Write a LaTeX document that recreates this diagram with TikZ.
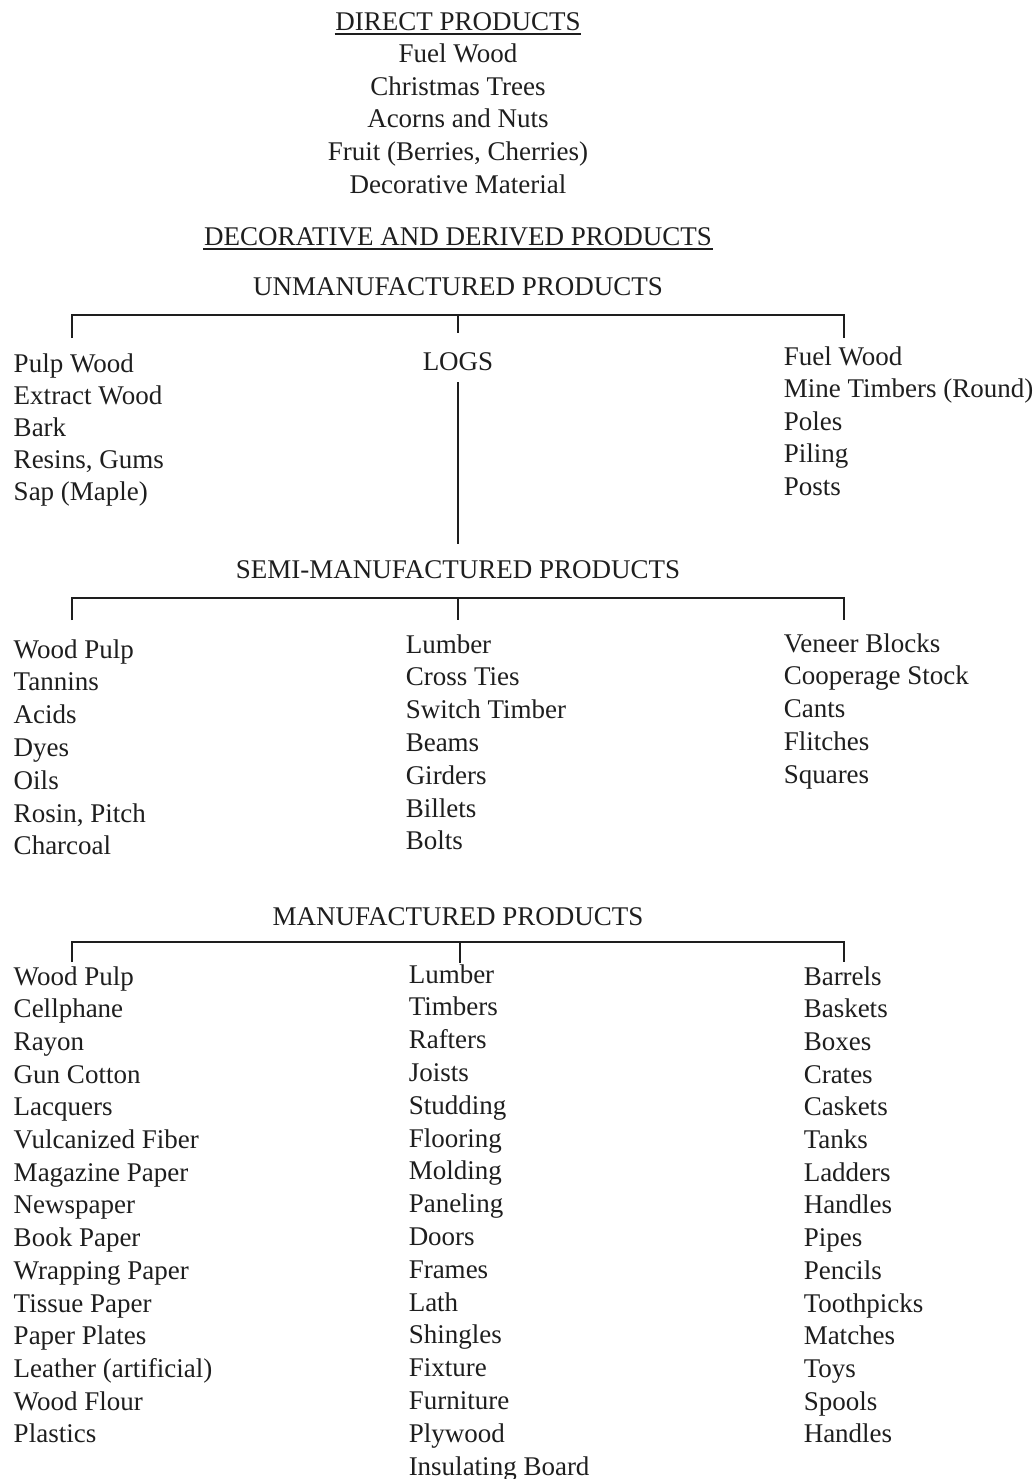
\documentclass[tikz,border=0pt]{standalone}
\usepackage{fontspec}
\setmainfont{Liberation Serif}
\definecolor{inkdark}{HTML}{1E1E1E}

\tikzset{
  heading/.style={anchor=base, inner sep=0pt, font=\fontsize{13.5}{16}\selectfont},
  entry/.style={anchor=base west, inner sep=0pt, font=\fontsize{13.5}{16}\selectfont},
}

\begin{document}
\begin{tikzpicture}[x=0.5pt, y=-0.5pt, line width=0.75pt, color=inkdark]
  \useasboundingbox (0,0) rectangle (1034,1479);
  % direct products
  \node[heading] (direct) at (458,30) {DIRECT PRODUCTS};
  \draw ([yshift=-2pt]direct.base west) -- ([yshift=-2pt]direct.base east);
  \foreach \t [count=\i] in {Fuel Wood, Christmas Trees, Acorns and Nuts, {Fruit (Berries, Cherries)}, Decorative Material}{
    \node[heading] (direct\i) at (458,{30+32.6*\i}) {\t}; }
  \node[heading] (derived) at (458,245) {DECORATIVE AND DERIVED PRODUCTS};
  \draw ([yshift=-2pt]derived.base west) -- ([yshift=-2pt]derived.base east);

  % unmanufactured products
  \node[heading] (unman) at (458,295) {UNMANUFACTURED PRODUCTS};
  \coordinate (unL) at (72,338); \coordinate (unM) at (458,315); \coordinate (unR) at (844,338);
  \draw (unL) |- (unM) -| (unR);
  \node[heading] (logs) at (458,370) {LOGS};
  \draw[shorten >=9pt] (unM) -- (logs.north);
  \foreach \t [count=\i] in {Pulp Wood, Extract Wood, Bark, {Resins, Gums}, {Sap (Maple)}}{
    \node[entry] (unA\i) at (13,{372+32.2*(\i-1)}) {\t}; }
  \foreach \t [count=\i] in {Fuel Wood, {Mine Timbers (Round)}, Poles, Piling, Posts}{
    \node[entry] (unC\i) at (783,{365+32.5*(\i-1)}) {\t}; }

  % semi-manufactured products
  \node[heading] (semi) at (458,578) {SEMI-MANUFACTURED PRODUCTS};
  \draw[shorten <=5.5pt, shorten >=7.5pt] (logs.south) -- (semi.north);
  \coordinate (smL) at (72,620); \coordinate (smM) at (458,598); \coordinate (smR) at (844,620);
  \draw (smL) |- (smM) -| (smR);
  \draw (smM) -- ++(0,22);
  \foreach \t [count=\i] in {Wood Pulp, Tannins, Acids, Dyes, Oils, {Rosin, Pitch}, Charcoal}{
    \node[entry] (smA\i) at (13,{658+32.8*(\i-1)}) {\t}; }
  \foreach \t [count=\i] in {Lumber, Cross Ties, Switch Timber, Beams, Girders, Billets, Bolts}{
    \node[entry] (smB\i) at (405,{653+32.8*(\i-1)}) {\t}; }
  \foreach \t [count=\i] in {Veneer Blocks, Cooperage Stock, Cants, Flitches, Squares}{
    \node[entry] (smC\i) at (783,{652+32.8*(\i-1)}) {\t}; }

  % manufactured products
  \node[heading] (manuf) at (458,925) {MANUFACTURED PRODUCTS};
  \coordinate (mfL) at (72,962); \coordinate (mfM) at (460,942); \coordinate (mfR) at (844,962);
  \draw (mfL) |- (mfM) -| (mfR);
  \draw (mfM) -- ++(0,21);
  \foreach \t [count=\i] in {Wood Pulp, Cellphane, Rayon, Gun Cotton, Lacquers, Vulcanized Fiber, Magazine Paper, Newspaper, Book Paper, Wrapping Paper, Tissue Paper, Paper Plates, {Leather (artificial)}, Wood Flour, Plastics}{
    \node[entry] (mfA\i) at (13,{985+32.7*(\i-1)}) {\t}; }
  \foreach \t [count=\i] in {Lumber, Timbers, Rafters, Joists, Studding, Flooring, Molding, Paneling, Doors, Frames, Lath, Shingles, Fixture, Furniture, Plywood, Insulating Board}{
    \node[entry] (mfB\i) at (408,{983+32.8*(\i-1)}) {\t}; }
  \foreach \t [count=\i] in {Barrels, Baskets, Boxes, Crates, Caskets, Tanks, Ladders, Handles, Pipes, Pencils, Toothpicks, Matches, Toys, Spools, Handles}{
    \node[entry] (mfC\i) at (803,{985+32.7*(\i-1)}) {\t}; }
\end{tikzpicture}
\end{document}
